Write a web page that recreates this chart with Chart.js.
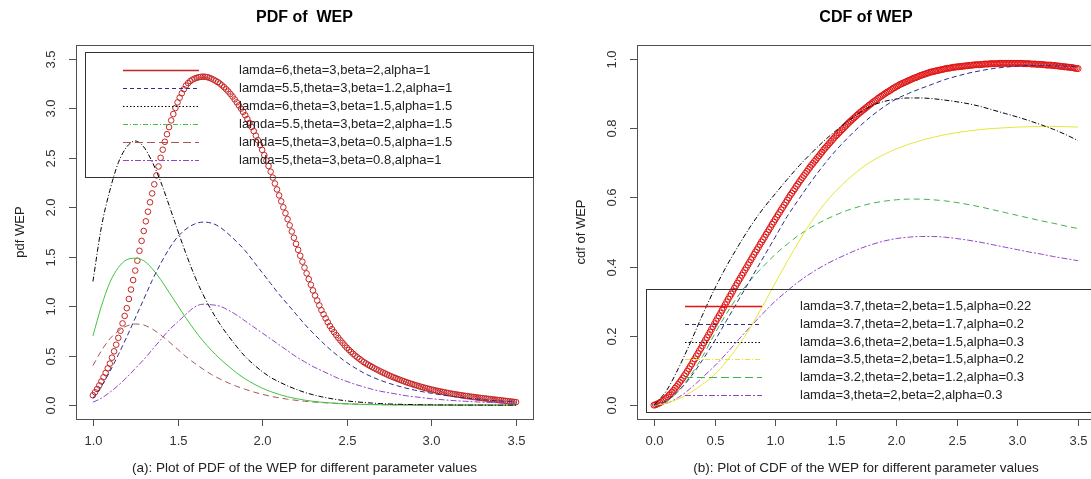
<!DOCTYPE html>
<html>
<head>
<meta charset="utf-8">
<script src="https://cdn.jsdelivr.net/npm/chart.js@4.4.1/dist/chart.umd.min.js"></script>
<style>
  html, body { margin: 0; padding: 0; background: #fff; overflow: hidden; width: 1091px; height: 479px; }
  .panel { position: absolute; top: 0; height: 479px; }
  #panelA { left: 0; width: 545px; }
  #panelB { left: 545px; width: 560px; }
  canvas { display: block; }
</style>
</head>
<body>
<div class="panel" id="panelA"><canvas id="pdfChart" width="545" height="479"></canvas></div>
<div class="panel" id="panelB"><canvas id="cdfChart" width="560" height="479"></canvas></div>
<script>
// ---------- evaluation grids (x positions) ----------
const pdfPointX = Array.from({ length: 201 }, (_, i) => +(1 + i * 0.0125).toFixed(4));
const pdfLineX  = Array.from({ length: 51 },  (_, i) => +(1 + i * 0.05).toFixed(2));
const cdfPointX = Array.from({ length: 281 }, (_, i) => +(i * 0.0125).toFixed(4));
const cdfLineX  = Array.from({ length: 36 },  (_, i) => +(i * 0.1).toFixed(1));

// ---------- tick values ----------
const pdfXTicks = [1.0, 1.5, 2.0, 2.5, 3.0, 3.5];
const pdfYTicks = [0.0, 0.5, 1.0, 1.5, 2.0, 2.5, 3.0, 3.5];
const cdfXTicks = [0.0, 0.5, 1.0, 1.5, 2.0, 2.5, 3.0, 3.5];
const cdfYTicks = [0.0, 0.2, 0.4, 0.6, 0.8, 1.0];

// ---------- series labels ----------
const pdfLabels = [
  'lamda=6,theta=3,beta=2,alpha=1',
  'lamda=5.5,theta=3,beta=1.2,alpha=1',
  'lamda=6,theta=3,beta=1.5,alpha=1.5',
  'lamda=5.5,theta=3,beta=2,alpha=1.5',
  'lamda=5,theta=3,beta=0.5,alpha=1.5',
  'lamda=5,theta=3,beta=0.8,alpha=1'
];
const cdfLabels = [
  'lamda=3.7,theta=2,beta=1.5,alpha=0.22',
  'lamda=3.7,theta=2,beta=1.7,alpha=0.2',
  'lamda=3.6,theta=2,beta=1.5,alpha=0.3',
  'lamda=3.5,theta=2,beta=1.5,alpha=0.2',
  'lamda=3.2,theta=2,beta=1.2,alpha=0.3',
  'lamda=3,theta=2,beta=2,alpha=0.3'
];

// ---------- PDF values ----------
const pdfRed = [
  0.100, 0.130, 0.163, 0.200, 0.240, 0.282, 0.326, 0.372, 0.420, 0.480, 0.544, 0.611,
  0.680, 0.752, 0.826, 0.902, 0.980, 1.073, 1.168, 1.264, 1.360, 1.460, 1.560, 1.660,
  1.760, 1.858, 1.955, 2.050, 2.140, 2.232, 2.322, 2.412, 2.500, 2.582, 2.662, 2.738,
  2.810, 2.878, 2.942, 3.003, 3.060, 3.108, 3.152, 3.193, 3.230, 3.255, 3.275, 3.290,
  3.300, 3.308, 3.314, 3.318, 3.320, 3.319, 3.315, 3.309, 3.300, 3.290, 3.278, 3.265,
  3.250, 3.232, 3.213, 3.192, 3.170, 3.145, 3.119, 3.090, 3.060, 3.029, 2.997, 2.964,
  2.930, 2.892, 2.852, 2.812, 2.770, 2.724, 2.677, 2.629, 2.580, 2.527, 2.473, 2.417,
  2.360, 2.300, 2.240, 2.180, 2.120, 2.060, 2.000, 1.940, 1.880, 1.818, 1.755, 1.692,
  1.630, 1.570, 1.510, 1.450, 1.390, 1.332, 1.274, 1.217, 1.160, 1.108, 1.058, 1.008,
  0.960, 0.918, 0.877, 0.838, 0.800, 0.768, 0.737, 0.708, 0.680, 0.654, 0.629, 0.604,
  0.580, 0.559, 0.539, 0.519, 0.500, 0.483, 0.467, 0.451, 0.435, 0.422, 0.409, 0.397,
  0.385, 0.373, 0.362, 0.351, 0.340, 0.330, 0.320, 0.310, 0.300, 0.291, 0.282, 0.274,
  0.265, 0.257, 0.249, 0.241, 0.233, 0.226, 0.219, 0.212, 0.205, 0.199, 0.192, 0.186,
  0.180, 0.174, 0.169, 0.163, 0.158, 0.153, 0.148, 0.144, 0.139, 0.135, 0.130, 0.126,
  0.122, 0.118, 0.114, 0.111, 0.107, 0.104, 0.100, 0.097, 0.094, 0.091, 0.088, 0.085,
  0.082, 0.079, 0.076, 0.074, 0.071, 0.068, 0.066, 0.063, 0.061, 0.058, 0.056, 0.053,
  0.051, 0.048, 0.046, 0.043, 0.041, 0.038, 0.036, 0.033, 0.031
];
const pdfBlue = [
  0.07, 0.19, 0.34, 0.51, 0.69, 0.88, 1.07, 1.26, 1.43, 1.58,
  1.70, 1.78, 1.83, 1.85, 1.84, 1.80, 1.73, 1.65, 1.56, 1.45,
  1.34, 1.23, 1.12, 1.02, 0.92, 0.82, 0.73, 0.645, 0.565, 0.495,
  0.43, 0.375, 0.325, 0.285, 0.25, 0.22, 0.195, 0.172, 0.152, 0.135,
  0.12, 0.106, 0.094, 0.083, 0.073, 0.064, 0.056, 0.049, 0.043, 0.038, 0.033
];
const pdfBlack = [
  1.25, 1.80, 2.17, 2.45, 2.61, 2.67, 2.61, 2.46, 2.26, 2.02,
  1.77, 1.53, 1.31, 1.12, 0.96, 0.82, 0.70, 0.59, 0.49, 0.41,
  0.34, 0.28, 0.235, 0.195, 0.16, 0.13, 0.105, 0.085, 0.068, 0.054,
  0.043, 0.034, 0.027, 0.021, 0.016, 0.012, 0.009, 0.007, 0.005, 0.004,
  0.003, 0.002, 0.002, 0.001, 0.001, 0.001, 0.001, 0, 0, 0, 0
];
const pdfGreen = [
  0.70, 1.00, 1.24, 1.39, 1.47, 1.485, 1.46, 1.38, 1.27, 1.14,
  1.01, 0.88, 0.76, 0.65, 0.555, 0.47, 0.395, 0.325, 0.265, 0.215,
  0.172, 0.137, 0.108, 0.085, 0.066, 0.051, 0.039, 0.030, 0.023, 0.017,
  0.013, 0.010, 0.007, 0.005, 0.004, 0.003, 0.002, 0.002, 0.001, 0.001,
  0.001, 0.001, 0.001, 0, 0, 0, 0, 0, 0, 0, 0
];
const pdfBrown = [
  0.40, 0.55, 0.67, 0.75, 0.80, 0.82, 0.81, 0.77, 0.71, 0.64,
  0.565, 0.49, 0.425, 0.365, 0.31, 0.265, 0.225, 0.19, 0.16, 0.133,
  0.11, 0.09, 0.074, 0.06, 0.049, 0.04, 0.032, 0.026, 0.021, 0.017,
  0.013, 0.011, 0.008, 0.007, 0.005, 0.004, 0.003, 0.003, 0.002, 0.002,
  0.001, 0.001, 0.001, 0.001, 0.001, 0.001, 0.001, 0.001, 0.001, 0.001, 0.001
];
const pdfPurple = [
  0.03, 0.07, 0.13, 0.20, 0.28, 0.37, 0.46, 0.56, 0.66, 0.76,
  0.84, 0.92, 0.99, 1.02, 1.015, 1.00, 0.96, 0.91, 0.85, 0.79,
  0.73, 0.67, 0.61, 0.55, 0.49, 0.44, 0.39, 0.35, 0.31, 0.27,
  0.24, 0.21, 0.185, 0.16, 0.14, 0.125, 0.11, 0.095, 0.085, 0.075,
  0.065, 0.057, 0.05, 0.044, 0.039, 0.034, 0.03, 0.027, 0.024, 0.021, 0.019
];

// ---------- CDF values ----------
const cdfRed = [
  0.000, 0.001, 0.003, 0.005, 0.007, 0.010, 0.013, 0.016, 0.020, 0.024, 0.029, 0.033,
  0.038, 0.043, 0.049, 0.054, 0.060, 0.066, 0.072, 0.078, 0.085, 0.091, 0.098, 0.105,
  0.112, 0.119, 0.127, 0.134, 0.142, 0.149, 0.157, 0.164, 0.172, 0.180, 0.188, 0.195,
  0.203, 0.211, 0.219, 0.227, 0.235, 0.243, 0.251, 0.258, 0.266, 0.274, 0.282, 0.290,
  0.298, 0.306, 0.314, 0.321, 0.329, 0.337, 0.345, 0.352, 0.360, 0.367, 0.375, 0.382,
  0.390, 0.397, 0.405, 0.412, 0.420, 0.427, 0.435, 0.442, 0.449, 0.456, 0.464, 0.471,
  0.478, 0.485, 0.493, 0.500, 0.507, 0.514, 0.522, 0.529, 0.536, 0.543, 0.550, 0.557,
  0.564, 0.571, 0.578, 0.585, 0.592, 0.599, 0.606, 0.612, 0.619, 0.625, 0.632, 0.638,
  0.645, 0.651, 0.657, 0.663, 0.669, 0.675, 0.681, 0.687, 0.693, 0.698, 0.704, 0.709,
  0.715, 0.720, 0.726, 0.731, 0.737, 0.742, 0.747, 0.752, 0.757, 0.762, 0.767, 0.772,
  0.777, 0.781, 0.786, 0.790, 0.795, 0.799, 0.804, 0.808, 0.813, 0.817, 0.821, 0.825,
  0.829, 0.833, 0.837, 0.841, 0.845, 0.848, 0.852, 0.855, 0.859, 0.862, 0.866, 0.869,
  0.873, 0.876, 0.879, 0.882, 0.886, 0.889, 0.892, 0.895, 0.898, 0.901, 0.904, 0.906,
  0.909, 0.912, 0.915, 0.917, 0.920, 0.922, 0.925, 0.927, 0.929, 0.931, 0.933, 0.935,
  0.937, 0.939, 0.941, 0.943, 0.945, 0.946, 0.948, 0.950, 0.952, 0.953, 0.955, 0.956,
  0.958, 0.959, 0.961, 0.962, 0.963, 0.964, 0.965, 0.966, 0.967, 0.968, 0.969, 0.970,
  0.971, 0.972, 0.973, 0.973, 0.974, 0.975, 0.976, 0.976, 0.977, 0.977, 0.978, 0.978,
  0.979, 0.979, 0.980, 0.980, 0.981, 0.981, 0.982, 0.982, 0.983, 0.983, 0.983, 0.983,
  0.984, 0.984, 0.985, 0.985, 0.985, 0.985, 0.986, 0.986, 0.986, 0.986, 0.986, 0.986,
  0.987, 0.987, 0.987, 0.987, 0.987, 0.987, 0.987, 0.987, 0.987, 0.987, 0.987, 0.987,
  0.987, 0.987, 0.987, 0.987, 0.986, 0.986, 0.986, 0.986, 0.986, 0.985, 0.985, 0.985,
  0.985, 0.984, 0.984, 0.984, 0.984, 0.983, 0.983, 0.982, 0.982, 0.982, 0.982, 0.981,
  0.981, 0.980, 0.980, 0.979, 0.979, 0.978, 0.978, 0.977, 0.977, 0.976, 0.976, 0.975,
  0.975, 0.974, 0.973, 0.972, 0.972
];
const cdfBlue = [
  0.000, 0.012, 0.040, 0.080, 0.130, 0.185, 0.245, 0.305, 0.365, 0.425,
  0.485, 0.545, 0.597, 0.647, 0.693, 0.735, 0.772, 0.806, 0.836, 0.862,
  0.884, 0.900, 0.914, 0.927, 0.940, 0.950, 0.959, 0.966, 0.972, 0.976,
  0.979, 0.981, 0.981, 0.980, 0.979, 0.977
];
const cdfBlack = [
  0.000, 0.040, 0.105, 0.180, 0.260, 0.335, 0.402, 0.462, 0.518, 0.567,
  0.610, 0.652, 0.692, 0.728, 0.762, 0.792, 0.820, 0.845, 0.865, 0.877,
  0.884, 0.887, 0.887, 0.885, 0.881, 0.876, 0.870, 0.862, 0.852, 0.842,
  0.832, 0.821, 0.809, 0.796, 0.781, 0.764
];
const cdfYellow = [
  0.000, 0.005, 0.018, 0.036, 0.060, 0.088, 0.127, 0.173, 0.227, 0.288,
  0.352, 0.415, 0.475, 0.530, 0.578, 0.618, 0.652, 0.681, 0.705, 0.724,
  0.740, 0.753, 0.764, 0.773, 0.781, 0.787, 0.792, 0.796, 0.799, 0.801,
  0.803, 0.804, 0.805, 0.805, 0.804, 0.803
];
const cdfGreen = [
  0.000, 0.010, 0.040, 0.085, 0.140, 0.205, 0.265, 0.318, 0.362, 0.400,
  0.435, 0.465, 0.492, 0.514, 0.533, 0.549, 0.563, 0.574, 0.583, 0.589,
  0.593, 0.595, 0.595, 0.593, 0.590, 0.585, 0.579, 0.572, 0.564, 0.556,
  0.548, 0.540, 0.532, 0.525, 0.517, 0.510
];
const cdfPurple = [
  0.000, 0.005, 0.022, 0.048, 0.080, 0.113, 0.150, 0.190, 0.228, 0.265,
  0.300, 0.330, 0.358, 0.382, 0.403, 0.421, 0.437, 0.452, 0.464, 0.474,
  0.481, 0.485, 0.487, 0.487, 0.485, 0.481, 0.476, 0.470, 0.463, 0.456,
  0.449, 0.442, 0.436, 0.429, 0.423, 0.417
];

// ---------- drawing helpers ----------
const FONT = '"Liberation Sans", Arial, Helvetica, sans-serif';
const pairs = (xs, ys) => xs.map((x, i) => ({ x, y: ys[i] }));

const circleSeries = (label, xs, ys, color, radius) => ({
  label, data: pairs(xs, ys), showLine: false, order: 1,
  pointStyle: 'circle', pointRadius: radius, pointBorderWidth: 1,
  pointBorderColor: color, pointBackgroundColor: 'rgba(0,0,0,0)',
  borderColor: color, legendDash: [], legendWidth: 1.5
});
const curve = (label, xs, ys, color, dash, legendDash) => ({
  label, data: pairs(xs, ys), borderColor: color, borderWidth: 1,
  borderDash: dash, pointRadius: 0, cubicInterpolationMode: 'monotone',
  fill: false, legendDash, legendWidth: 1.2
});

// Box, tick marks, tick labels and titles in the style of a base-graphics plot
const frame = {
  id: 'frame',
  afterDraw(chart, args, o) {
    const { ctx, chartArea: a, scales: { x, y } } = chart;
    ctx.save();
    ctx.strokeStyle = '#505050';
    ctx.lineWidth = 1;
    ctx.strokeRect(Math.round(a.left) + 0.5, Math.round(a.top) + 0.5,
                   Math.round(a.right - a.left), Math.round(a.bottom - a.top));
    ctx.fillStyle = '#333';
    ctx.font = `13px ${FONT}`;
    ctx.textAlign = 'center';
    ctx.textBaseline = 'middle';
    o.xTicks.forEach(v => {
      const px = Math.round(x.getPixelForValue(v)) + 0.5;
      ctx.beginPath(); ctx.moveTo(px, a.bottom); ctx.lineTo(px, a.bottom + 7); ctx.stroke();
      ctx.fillText(v.toFixed(1), px, a.bottom + 22);
    });
    o.yTicks.forEach(v => {
      const py = Math.round(y.getPixelForValue(v)) + 0.5;
      ctx.beginPath(); ctx.moveTo(a.left, py); ctx.lineTo(a.left - 7, py); ctx.stroke();
      ctx.save();
      ctx.translate(a.left - 25, py);
      ctx.rotate(-Math.PI / 2);
      ctx.fillText(v.toFixed(1), 0, 0);
      ctx.restore();
    });
    const cx = (a.left + a.right) / 2;
    ctx.fillStyle = '#000';
    ctx.font = `bold 16px ${FONT}`;
    ctx.fillText(o.title, cx, a.top - 27);
    ctx.fillStyle = '#222';
    ctx.font = `13.5px ${FONT}`;
    ctx.fillText(o.caption, cx, a.bottom + 49);
    ctx.save();
    ctx.translate(a.left - 56, (a.top + a.bottom) / 2);
    ctx.rotate(-Math.PI / 2);
    ctx.font = `13px ${FONT}`;
    ctx.fillText(o.yTitle, 0, 0);
    ctx.restore();
    ctx.restore();
  }
};

// Boxed key with line samples, placed inside the plotting region
const key = {
  id: 'key',
  afterDraw(chart, args, o) {
    const { ctx, chartArea: a } = chart;
    const items = chart.data.datasets;
    const h = items.length * o.rowH + o.rowH * 0.95;
    const left = a.left + o.inset;
    const top = o.corner === 'top' ? a.top + o.offset : a.bottom - o.offset - h;
    ctx.save();
    ctx.strokeStyle = '#333';
    ctx.lineWidth = 1;
    ctx.strokeRect(Math.round(left) + 0.5, Math.round(top) + 0.5,
                   Math.round(a.right - left), Math.round(h));
    ctx.font = `13px ${FONT}`;
    ctx.textBaseline = 'middle';
    ctx.textAlign = 'left';
    items.forEach((ds, i) => {
      const yy = Math.round(top + o.rowH * (i + 1)) + 0.5;
      ctx.strokeStyle = ds.borderColor;
      ctx.lineWidth = ds.legendWidth || 1;
      ctx.setLineDash(ds.legendDash || []);
      ctx.beginPath();
      ctx.moveTo(a.left + o.lineFrom, yy);
      ctx.lineTo(a.left + o.lineTo, yy);
      ctx.stroke();
      ctx.setLineDash([]);
      ctx.fillStyle = '#222';
      ctx.fillText(ds.label, a.left + o.textAt, yy);
    });
    ctx.restore();
  }
};

const baseOptions = (xMin, xMax, yMin, yMax, pad) => ({
  responsive: false,
  animation: false,
  devicePixelRatio: 1,
  events: [],
  layout: { padding: pad },
  scales: {
    x: { type: 'linear', min: xMin, max: xMax, display: false },
    y: { type: 'linear', min: yMin, max: yMax, display: false }
  }
});

// ---------- left panel: density ----------
const pdfOpts = baseOptions(0.9, 3.6, -0.14, 3.64, { left: 76, top: 45, right: 12, bottom: 60 });
pdfOpts.plugins = {
  legend: { display: false }, tooltip: { enabled: false },
  frame: { xTicks: pdfXTicks, yTicks: pdfYTicks, title: 'PDF of  WEP',
           caption: '(a): Plot of PDF of the WEP for different parameter values', yTitle: 'pdf WEP' },
  key: { corner: 'top', inset: 9, offset: 7, rowH: 18, lineFrom: 47, lineTo: 123, textAt: 163 }
};
new Chart(document.getElementById('pdfChart'), {
  type: 'line',
  data: {
    datasets: [
      circleSeries(pdfLabels[0], pdfPointX, pdfRed, '#c42424', 2.8),
      curve(pdfLabels[1], pdfLineX, pdfBlue,   '#2e2e86', [5, 3],       [4, 3]),
      curve(pdfLabels[2], pdfLineX, pdfBlack,  '#000000', [5, 2, 1, 2], [1.5, 2]),
      curve(pdfLabels[3], pdfLineX, pdfGreen,  '#3fc43f', [],           [5, 2, 1, 2]),
      curve(pdfLabels[4], pdfLineX, pdfBrown,  '#a65656', [6, 4],       [8, 4]),
      curve(pdfLabels[5], pdfLineX, pdfPurple, '#9444c8', [6, 2, 2, 2], [6, 2, 2, 2])
    ]
  },
  options: pdfOpts,
  plugins: [frame, key]
});

// ---------- right panel: distribution function ----------
const cdfOpts = baseOptions(-0.14, 3.64, -0.04, 1.04, { left: 92, top: 45, right: 10, bottom: 60 });
cdfOpts.plugins = {
  legend: { display: false }, tooltip: { enabled: false },
  frame: { xTicks: cdfXTicks, yTicks: cdfYTicks, title: 'CDF of WEP',
           caption: '(b): Plot of CDF of the WEP for different parameter values', yTitle: 'cdf of WEP' },
  key: { corner: 'bottom', inset: 9, offset: 7.4, rowH: 17.7, lineFrom: 48, lineTo: 125, textAt: 163 }
};
new Chart(document.getElementById('cdfChart'), {
  type: 'line',
  data: {
    datasets: [
      circleSeries(cdfLabels[0], cdfPointX, cdfRed, '#e01414', 3),
      curve(cdfLabels[1], cdfLineX, cdfBlue,   '#2e2e86', [5, 3],       [4, 3]),
      curve(cdfLabels[2], cdfLineX, cdfBlack,  '#000000', [5, 2, 1, 2], [1.5, 2]),
      curve(cdfLabels[3], cdfLineX, cdfYellow, '#e6e635', [],           [5, 2, 1, 2]),
      curve(cdfLabels[4], cdfLineX, cdfGreen,  '#3fb24a', [6, 4],       [8, 4]),
      curve(cdfLabels[5], cdfLineX, cdfPurple, '#9444c8', [6, 2, 2, 2], [6, 2, 2, 2])
    ]
  },
  options: cdfOpts,
  plugins: [frame, key]
});
</script>
</body>
</html>
